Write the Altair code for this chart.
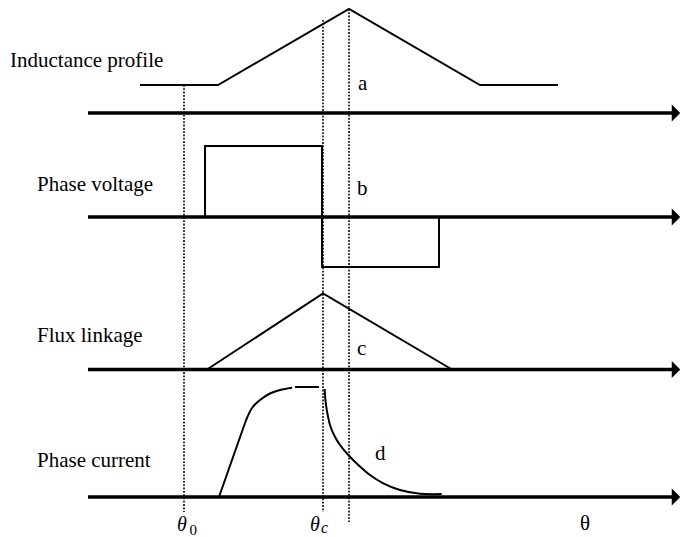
import altair as alt
import pandas as pd

W, H = 680, 537

# ---- waveform breakpoints: rotor angle and amplitude above each trace's zero line ----
ind_theta = [140, 218, 349, 480, 558]
ind_amp = [28, 28, 104, 28, 28]

volt_theta = [205, 205, 322, 322, 439, 439]
volt_amp = [0, 71, 71, -50, -50, 0]

flux_theta = [207, 323, 452]
flux_amp = [0, 76, 0]

# phase current: linear build-up, rounded knee, flat top, demagnetising tail
cur_ramp_theta = [219, 245]
cur_ramp_amp = [0, 74]
cur_knee_theta = [245, 252, 260, 270, 280, 292]
cur_knee_amp = [74, 89, 97, 103.5, 107, 109.3]
cur_flat_theta = [295, 319]
cur_flat_amp = [110, 110]
cur_fall_theta = [324.7, 325, 326, 327.7, 330, 334, 340, 348.3, 358.3, 370,
                  383.3, 400, 420, 441.7]
cur_fall_amp = [108, 102, 92, 82, 72, 62, 52, 42, 32, 22, 13.7, 7, 3.3, 3]

# reference angles: turn-on (theta_0), commutation (theta_c), aligned position
ref_names = ["theta0", "thetac", "aligned"]
ref_theta = [184, 323, 349]

# ---- layout: zero line of each trace, extents of the guides ----
base = {"a": 424, "b": 320, "c": 167.5, "d": 40}
axis_start, axis_end = 88, 672
ref_top = [452, 517, 528]
ref_bottom = [25, 25, 15]

rows = []


def add(trace, seg, thetas, amps):
    for i, (t, a) in enumerate(zip(thetas, amps)):
        rows.append(dict(trace=trace, seg=f"{trace}-{seg}", order=i,
                         theta=t, y=base[trace] + a))


add("a", "ind", ind_theta, ind_amp)
add("b", "volt", volt_theta, volt_amp)
add("c", "flux", flux_theta, flux_amp)
add("d", "flat", cur_flat_theta, cur_flat_amp)
add("d", "ramp", cur_ramp_theta, cur_ramp_amp)
lines_df = pd.DataFrame(rows)

rows = []
add("d", "knee", cur_knee_theta, cur_knee_amp)
add("d", "fall", cur_fall_theta, cur_fall_amp)
curves_df = pd.DataFrame(rows)

axes_df = pd.DataFrame({"trace": list(base), "x1": axis_start, "x2": axis_end,
                        "y": list(base.values())})
guides_df = pd.DataFrame({"name": ref_names, "theta": ref_theta,
                          "y1": ref_top, "y2": ref_bottom})

labels_df = pd.DataFrame({
    "text": ["Inductance profile", "Phase voltage", "Flux linkage", "Phase current",
             "a", "b", "c", "d", "θ"],
    "x": [10, 37, 37, 37, 358, 357, 357, 375, 580],
    "y": [470, 346, 195, 70, 447, 342, 182, 77, 7],
})
greek_df = pd.DataFrame({"text": ["θ", "θ"], "x": [177, 310], "y": [6, 6]})
sub_up_df = pd.DataFrame({"text": ["0"], "x": [189.5], "y": [2]})
sub_it_df = pd.DataFrame({"text": ["c"], "x": [321], "y": [4]})

xs = alt.Scale(domain=[0, W], nice=False, zero=False)
ys = alt.Scale(domain=[0, H], nice=False, zero=False)
X = lambda f: alt.X(f, scale=xs, axis=None)
Y = lambda f: alt.Y(f, scale=ys, axis=None)
SERIF = "Liberation Serif"

axis_lines = alt.Chart(axes_df).mark_rule(color="black", strokeWidth=3.3).encode(
    x=X("x1:Q"), x2="x2:Q", y=Y("y:Q"))

arrows = alt.Chart(axes_df).mark_point(
    shape="M -0.5 -1 L 0.5 0 L -0.5 1 Z", filled=True, color="black",
    size=290, opacity=1, strokeWidth=0
).encode(x=X("x2:Q"), y=Y("y:Q"), xOffset=alt.value(4))

guides = alt.Chart(guides_df).mark_rule(
    color="black", strokeWidth=1.6, strokeDash=[1.8, 1.5]
).encode(x=X("theta:Q"), y=Y("y1:Q"), y2="y2:Q")

waves = alt.Chart(lines_df).mark_line(
    color="black", strokeWidth=2, interpolate="linear", strokeJoin="miter"
).encode(x=X("theta:Q"), y=Y("y:Q"), detail="seg:N", order="order:Q")

current = alt.Chart(curves_df).mark_line(
    color="black", strokeWidth=2, interpolate="catmull-rom"
).encode(x=X("theta:Q"), y=Y("y:Q"), detail="seg:N", order="order:Q")

labels = alt.Chart(labels_df).mark_text(
    align="left", baseline="alphabetic", font=SERIF,
    fontSize=21, color="black"
).encode(x=X("x:Q"), y=Y("y:Q"), text="text:N")

greek = alt.Chart(greek_df).mark_text(
    align="left", baseline="alphabetic", font=SERIF,
    fontStyle="italic", fontSize=20, color="black"
).encode(x=X("x:Q"), y=Y("y:Q"), text="text:N")

sub_up = alt.Chart(sub_up_df).mark_text(
    align="left", baseline="alphabetic", font=SERIF,
    fontSize=15, color="black"
).encode(x=X("x:Q"), y=Y("y:Q"), text="text:N")

sub_it = alt.Chart(sub_it_df).mark_text(
    align="left", baseline="alphabetic", font=SERIF,
    fontStyle="italic", fontSize=16, color="black"
).encode(x=X("x:Q"), y=Y("y:Q"), text="text:N")

chart = alt.layer(
    guides, axis_lines, arrows, waves, current, labels, greek, sub_up, sub_it
).properties(
    width=W, height=H, padding=0,
    autosize=alt.AutoSizeParams(type="none"),
    background="white",
).configure_view(stroke=None)

chart.save("out.html", embed_options={"renderer": "svg", "actions": False})
